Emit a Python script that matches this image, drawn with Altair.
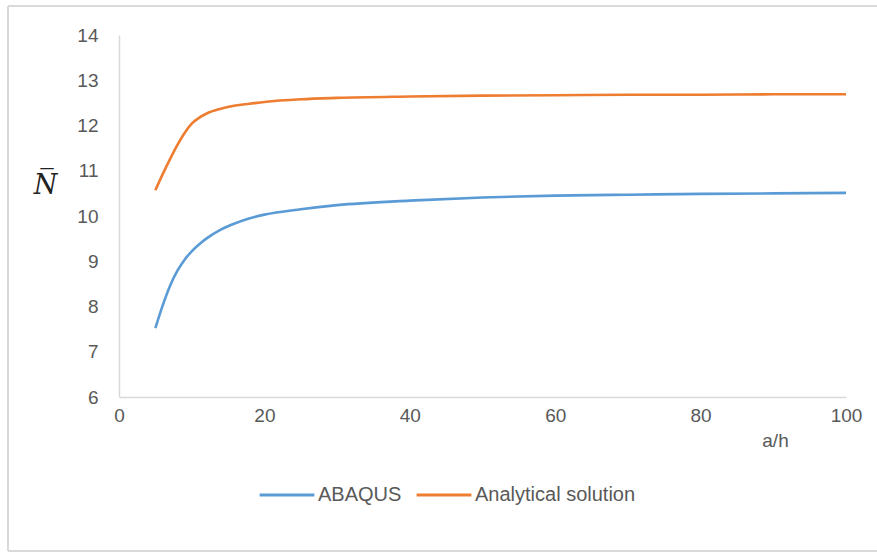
import altair as alt
import pandas as pd

# a/h ratios at which the normalised load was evaluated
a_over_h = [5, 6, 7, 8, 9, 10, 11, 12, 14, 16, 18, 20, 25, 30, 40, 50, 60, 70, 80, 90, 100]

# Finite-element results (ABAQUS)
abaqus = [7.52, 8.02, 8.45, 8.78, 9.03, 9.22, 9.37, 9.50, 9.70, 9.84, 9.95,
          10.03, 10.15, 10.24, 10.34, 10.41, 10.45, 10.47, 10.49, 10.50, 10.51]

# Closed-form analytical solution
analytical = [10.57, 10.92, 11.25, 11.56, 11.83, 12.04, 12.17, 12.26, 12.37, 12.44, 12.48,
              12.52, 12.58, 12.61, 12.64, 12.66, 12.67, 12.68, 12.68, 12.69, 12.69]

series_names = ["ABAQUS", "Analytical solution"]
series_colors = ["#5B9BD5", "#ED7D31"]

df = pd.concat([
    pd.DataFrame({"a/h": a_over_h, "N": abaqus, "series": series_names[0]}),
    pd.DataFrame({"a/h": a_over_h, "N": analytical, "series": series_names[1]}),
])

FONT = "Liberation Sans"
GREY = "#595959"
LINE = "#d9d9d9"

lines = alt.Chart(df).mark_line(strokeWidth=2.6, interpolate="monotone").encode(
    x=alt.X(
        "a/h:Q",
        scale=alt.Scale(domain=[0, 100], nice=False),
        axis=alt.Axis(
            values=[0, 20, 40, 60, 80, 100], grid=False, ticks=False,
            domainColor=LINE, domainWidth=1.5,
            labelFont=FONT, labelFontSize=19, labelColor=GREY, labelPadding=9,
            labelFlush=False,
            title="a/h", titleFont=FONT, titleFontSize=19, titleColor=GREY,
            titleFontWeight="normal", titleX=656, titleY=43,
            titleAlign="center", titleBaseline="middle",
        ),
    ),
    y=alt.Y(
        "N:Q",
        scale=alt.Scale(domain=[6, 14], nice=False, zero=False),
        axis=alt.Axis(
            values=list(range(6, 15)), grid=False, ticks=False,
            domainColor=LINE, domainWidth=1.5,
            labelFont=FONT, labelFontSize=19, labelColor=GREY, labelPadding=21,
            title="N\u0305", titleFont="DejaVu Serif", titleFontStyle="italic",
            titleFontSize=27, titleColor="#222222", titleFontWeight="normal",
            titleAngle=0, titleX=-74, titleY=150,
            titleAlign="center", titleBaseline="middle",
        ),
    ),
    color=alt.Color(
        "series:N",
        scale=alt.Scale(domain=series_names, range=series_colors),
        legend=alt.Legend(
            orient="none", legendX=139, legendY=431, direction="horizontal",
            title=None, symbolType="stroke", symbolSize=3000,
            symbolStrokeWidth=3, labelFont=FONT, labelFontSize=20,
            labelColor=GREY, labelOffset=2, columnPadding=8, labelLimit=0,
        ),
    ),
)

# light frame edges (top, left, bottom) around the chart
edge = dict(stroke=LINE, strokeWidth=2, clip=False)
frame_top = alt.Chart(df).mark_rule(**edge).encode(
    x=alt.value(-111), x2=alt.value(800), y=alt.value(-29))
frame_left = alt.Chart(df).mark_rule(**edge).encode(
    x=alt.value(-111), y=alt.value(-29), y2=alt.value(516))
frame_bottom = alt.Chart(df).mark_rule(**edge).encode(
    x=alt.value(-111), x2=alt.value(800), y=alt.value(516))

chart = alt.layer(frame_top, frame_left, frame_bottom, lines).properties(
    width=727, height=362,
    autosize=alt.AutoSizeParams(type="none"),
    padding={"left": 119, "top": 35, "right": 31, "bottom": 156},
    background="white",
).configure_view(stroke=None)

chart.save("out.html", embed_options={"renderer": "svg", "actions": False})
